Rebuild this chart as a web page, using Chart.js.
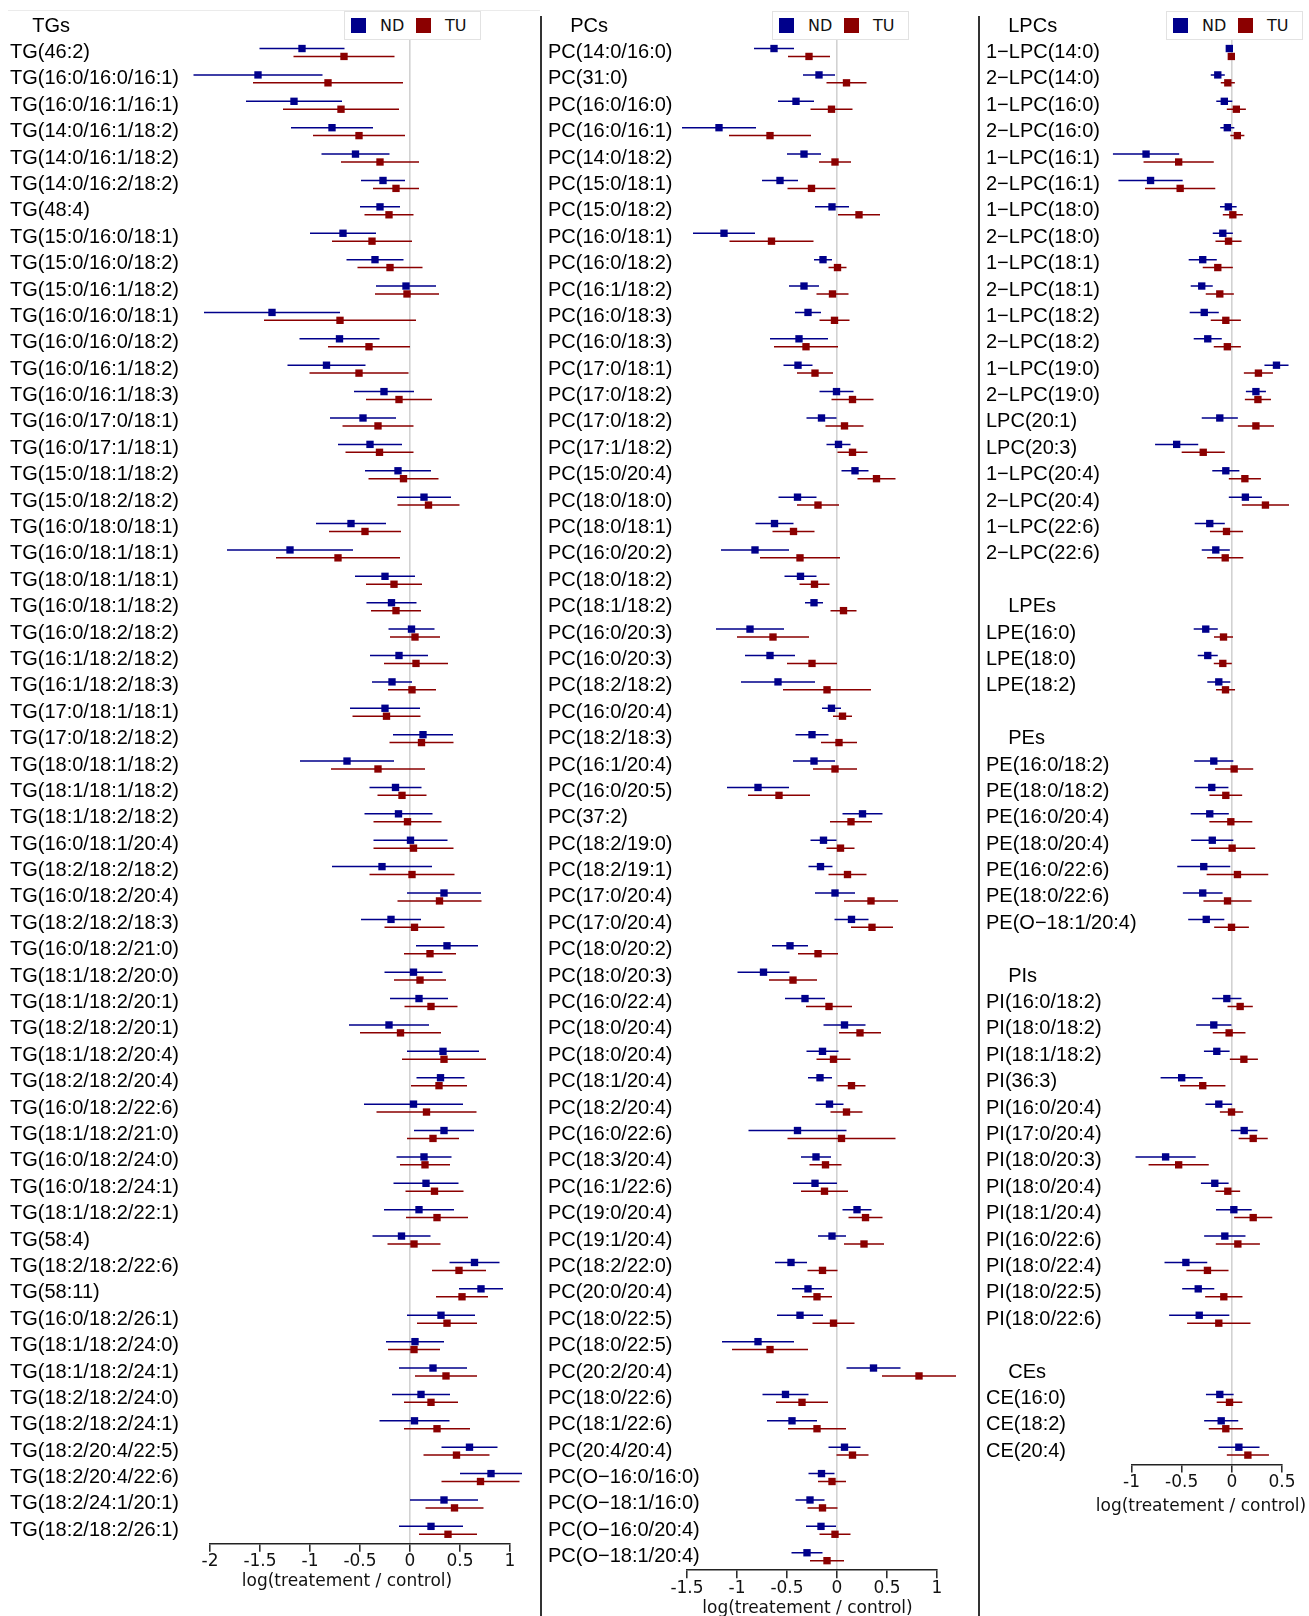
<!DOCTYPE html>
<html>
<head>
<meta charset="utf-8">
<script src="https://cdn.jsdelivr.net/npm/chart.js@4/dist/chart.umd.min.js"></script>
<style>
  html, body { margin: 0; padding: 0; background: #fff; }
  body { width: 1309px; height: 1616px; position: relative; overflow: hidden; font-family: "DejaVu Sans", sans-serif; }
  canvas { position: absolute; top: 0; }
  .divider { position: absolute; top: 16px; bottom: 0; width: 2px; background: #333; }
  .topline { position: absolute; top: 10px; left: 8px; width: 532px; height: 1px; background: #ebebeb; }
  .legend { position: absolute; top: 11px; width: 137px; height: 29px; box-sizing: border-box;
            border: 1px solid #e2e2e2; background: #fff; z-index: 2; }
  .legend .sq { position: absolute; top: 6px; width: 15px; height: 15px; }
  .legend .tx { position: absolute; top: 0; line-height: 27px; font-size: 16px; color: #111; }
</style>
</head>
<body>
<div class="topline"></div>
<canvas id="tgChart" width="541" height="1616" style="left:0px"></canvas>
<canvas id="pcChart" width="438" height="1616" style="left:541px"></canvas>
<canvas id="lpChart" width="330" height="1616" style="left:979px"></canvas>
<div class="divider" style="left:540px"></div>
<div class="divider" style="left:978px"></div>

<script>
// ---------- Triglycerides ----------
const tgLabels = [
  'TG(46:2)', 'TG(16:0/16:0/16:1)', 'TG(16:0/16:1/16:1)', 'TG(14:0/16:1/18:2)', 'TG(14:0/16:1/18:2)',
  'TG(14:0/16:2/18:2)', 'TG(48:4)', 'TG(15:0/16:0/18:1)', 'TG(15:0/16:0/18:2)', 'TG(15:0/16:1/18:2)',
  'TG(16:0/16:0/18:1)', 'TG(16:0/16:0/18:2)', 'TG(16:0/16:1/18:2)', 'TG(16:0/16:1/18:3)', 'TG(16:0/17:0/18:1)',
  'TG(16:0/17:1/18:1)', 'TG(15:0/18:1/18:2)', 'TG(15:0/18:2/18:2)', 'TG(16:0/18:0/18:1)', 'TG(16:0/18:1/18:1)',
  'TG(18:0/18:1/18:1)', 'TG(16:0/18:1/18:2)', 'TG(16:0/18:2/18:2)', 'TG(16:1/18:2/18:2)', 'TG(16:1/18:2/18:3)',
  'TG(17:0/18:1/18:1)', 'TG(17:0/18:2/18:2)', 'TG(18:0/18:1/18:2)', 'TG(18:1/18:1/18:2)', 'TG(18:1/18:2/18:2)',
  'TG(16:0/18:1/20:4)', 'TG(18:2/18:2/18:2)', 'TG(16:0/18:2/20:4)', 'TG(18:2/18:2/18:3)', 'TG(16:0/18:2/21:0)',
  'TG(18:1/18:2/20:0)', 'TG(18:1/18:2/20:1)', 'TG(18:2/18:2/20:1)', 'TG(18:1/18:2/20:4)', 'TG(18:2/18:2/20:4)',
  'TG(16:0/18:2/22:6)', 'TG(18:1/18:2/21:0)', 'TG(16:0/18:2/24:0)', 'TG(16:0/18:2/24:1)', 'TG(18:1/18:2/22:1)',
  'TG(58:4)', 'TG(18:2/18:2/22:6)', 'TG(58:11)', 'TG(16:0/18:2/26:1)', 'TG(18:1/18:2/24:0)',
  'TG(18:1/18:2/24:1)', 'TG(18:2/18:2/24:0)', 'TG(18:2/18:2/24:1)', 'TG(18:2/20:4/22:5)', 'TG(18:2/20:4/22:6)',
  'TG(18:2/24:1/20:1)', 'TG(18:2/18:2/26:1)'
];
const tgNd = [-1.08, -1.52, -1.16, -0.78, -0.545, -0.27, -0.30, -0.67, -0.35, -0.04,
  -1.38, -0.705, -0.835, -0.26, -0.47, -0.40, -0.12, 0.14, -0.59, -1.20,
  -0.25, -0.185, 0.015, -0.11, -0.18, -0.25, 0.13, -0.63, -0.145, -0.115,
  0.005, -0.28, 0.34, -0.19, 0.37, 0.035, 0.09, -0.21, 0.33, 0.305,
  0.035, 0.34, 0.14, 0.16, 0.09, -0.085, 0.645, 0.71, 0.31, 0.05,
  0.23, 0.11, 0.045, 0.595, 0.81, 0.34, 0.21];
const tgNdErr = [0.425, 0.645, 0.48, 0.41, 0.34, 0.22, 0.20, 0.33, 0.285, 0.30,
  0.68, 0.40, 0.39, 0.30, 0.33, 0.32, 0.33, 0.27, 0.35, 0.63,
  0.30, 0.25, 0.23, 0.29, 0.20, 0.35, 0.30, 0.47, 0.26, 0.34,
  0.37, 0.50, 0.37, 0.30, 0.31, 0.29, 0.29, 0.40, 0.36, 0.24,
  0.495, 0.30, 0.275, 0.325, 0.35, 0.29, 0.25, 0.22, 0.34, 0.29,
  0.34, 0.29, 0.35, 0.28, 0.31, 0.34, 0.32];
const tgTu = [-0.66, -0.82, -0.69, -0.51, -0.30, -0.14, -0.21, -0.38, -0.20, -0.03,
  -0.70, -0.41, -0.51, -0.11, -0.32, -0.305, -0.065, 0.185, -0.45, -0.72,
  -0.16, -0.14, 0.05, 0.06, 0.02, -0.235, 0.115, -0.32, -0.08, -0.025,
  0.035, 0.02, 0.295, 0.045, 0.20, 0.10, 0.21, -0.095, 0.34, 0.29,
  0.165, 0.23, 0.15, 0.245, 0.27, 0.04, 0.49, 0.52, 0.37, 0.04,
  0.36, 0.21, 0.27, 0.465, 0.705, 0.445, 0.38];
const tgTuErr = [0.505, 0.75, 0.58, 0.46, 0.39, 0.23, 0.245, 0.40, 0.325, 0.32,
  0.76, 0.41, 0.495, 0.33, 0.355, 0.34, 0.35, 0.31, 0.36, 0.62,
  0.28, 0.25, 0.25, 0.32, 0.24, 0.34, 0.32, 0.47, 0.245, 0.34,
  0.40, 0.425, 0.42, 0.30, 0.26, 0.26, 0.265, 0.405, 0.42, 0.28,
  0.50, 0.26, 0.25, 0.29, 0.31, 0.265, 0.27, 0.26, 0.30, 0.26,
  0.31, 0.27, 0.33, 0.33, 0.39, 0.29, 0.29];

// ---------- Phosphatidylcholines ----------
const pcLabels = [
  'PC(14:0/16:0)', 'PC(31:0)', 'PC(16:0/16:0)', 'PC(16:0/16:1)', 'PC(14:0/18:2)',
  'PC(15:0/18:1)', 'PC(15:0/18:2)', 'PC(16:0/18:1)', 'PC(16:0/18:2)', 'PC(16:1/18:2)',
  'PC(16:0/18:3)', 'PC(16:0/18:3)', 'PC(17:0/18:1)', 'PC(17:0/18:2)', 'PC(17:0/18:2)',
  'PC(17:1/18:2)', 'PC(15:0/20:4)', 'PC(18:0/18:0)', 'PC(18:0/18:1)', 'PC(16:0/20:2)',
  'PC(18:0/18:2)', 'PC(18:1/18:2)', 'PC(16:0/20:3)', 'PC(16:0/20:3)', 'PC(18:2/18:2)',
  'PC(16:0/20:4)', 'PC(18:2/18:3)', 'PC(16:1/20:4)', 'PC(16:0/20:5)', 'PC(37:2)',
  'PC(18:2/19:0)', 'PC(18:2/19:1)', 'PC(17:0/20:4)', 'PC(17:0/20:4)', 'PC(18:0/20:2)',
  'PC(18:0/20:3)', 'PC(16:0/22:4)', 'PC(18:0/20:4)', 'PC(18:0/20:4)', 'PC(18:1/20:4)',
  'PC(18:2/20:4)', 'PC(16:0/22:6)', 'PC(18:3/20:4)', 'PC(16:1/22:6)', 'PC(19:0/20:4)',
  'PC(19:1/20:4)', 'PC(18:2/22:0)', 'PC(20:0/20:4)', 'PC(18:0/22:5)', 'PC(18:0/22:5)',
  'PC(20:2/20:4)', 'PC(18:0/22:6)', 'PC(18:1/22:6)', 'PC(20:4/20:4)', 'PC(O\u221216:0/16:0)',
  'PC(O\u221218:1/16:0)', 'PC(O\u221216:0/20:4)', 'PC(O\u221218:1/20:4)'
];
const pcNd = [-0.63, -0.18, -0.41, -1.18, -0.33, -0.57, -0.05, -1.13, -0.14, -0.33,
  -0.29, -0.38, -0.39, -0.005, -0.155, 0.015, 0.18, -0.395, -0.625, -0.82,
  -0.365, -0.23, -0.87, -0.67, -0.59, -0.055, -0.25, -0.23, -0.79, 0.255,
  -0.135, -0.165, -0.02, 0.145, -0.47, -0.735, -0.32, 0.075, -0.145, -0.17,
  -0.075, -0.395, -0.21, -0.22, 0.20, -0.05, -0.46, -0.29, -0.37, -0.79,
  0.365, -0.515, -0.45, 0.075, -0.155, -0.27, -0.16, -0.30];
const pcNdErr = [0.20, 0.16, 0.18, 0.37, 0.17, 0.18, 0.17, 0.31, 0.09, 0.15,
  0.13, 0.29, 0.145, 0.17, 0.15, 0.12, 0.135, 0.19, 0.19, 0.34,
  0.16, 0.09, 0.34, 0.25, 0.37, 0.095, 0.165, 0.21, 0.31, 0.20,
  0.13, 0.12, 0.20, 0.17, 0.18, 0.26, 0.20, 0.21, 0.16, 0.12,
  0.14, 0.49, 0.15, 0.22, 0.145, 0.14, 0.16, 0.16, 0.23, 0.36,
  0.27, 0.23, 0.25, 0.16, 0.13, 0.145, 0.15, 0.155];
const pcTu = [-0.28, 0.095, -0.055, -0.67, -0.02, -0.255, 0.22, -0.655, 0.005, -0.045,
  -0.025, -0.31, -0.22, 0.155, 0.075, 0.155, 0.395, -0.19, -0.435, -0.37,
  -0.225, 0.065, -0.64, -0.25, -0.10, 0.055, 0.02, -0.02, -0.58, 0.14,
  0.035, 0.105, 0.34, 0.35, -0.19, -0.44, -0.08, 0.23, -0.035, 0.145,
  0.095, 0.045, -0.115, -0.125, 0.285, 0.27, -0.145, -0.20, -0.035, -0.67,
  0.82, -0.35, -0.20, 0.155, -0.05, -0.145, -0.02, -0.10];
const pcTuErr = [0.21, 0.20, 0.21, 0.41, 0.16, 0.24, 0.21, 0.42, 0.09, 0.16,
  0.15, 0.32, 0.18, 0.21, 0.19, 0.15, 0.19, 0.21, 0.21, 0.40,
  0.15, 0.13, 0.36, 0.25, 0.44, 0.095, 0.18, 0.22, 0.31, 0.21,
  0.14, 0.19, 0.27, 0.21, 0.20, 0.24, 0.23, 0.21, 0.17, 0.14,
  0.16, 0.54, 0.16, 0.235, 0.17, 0.20, 0.15, 0.15, 0.21, 0.38,
  0.37, 0.26, 0.29, 0.16, 0.14, 0.15, 0.155, 0.17];

// ---------- Lysophosphatidylcholines ----------
const lpcLabels = ['1\u2212LPC(14:0)', '2\u2212LPC(14:0)', '1\u2212LPC(16:0)', '2\u2212LPC(16:0)', '1\u2212LPC(16:1)',
  '2\u2212LPC(16:1)', '1\u2212LPC(18:0)', '2\u2212LPC(18:0)', '1\u2212LPC(18:1)', '2\u2212LPC(18:1)',
  '1\u2212LPC(18:2)', '2\u2212LPC(18:2)', '1\u2212LPC(19:0)', '2\u2212LPC(19:0)', 'LPC(20:1)',
  'LPC(20:3)', '1\u2212LPC(20:4)', '2\u2212LPC(20:4)', '1\u2212LPC(22:6)', '2\u2212LPC(22:6)'];
const lpcNd = [-0.025, -0.14, -0.075, -0.045, -0.855, -0.81, -0.035, -0.09, -0.29, -0.30,
  -0.275, -0.24, 0.445, 0.24, -0.12, -0.55, -0.06, 0.135, -0.22, -0.16];
const lpcNdErr = [0.015, 0.07, 0.08, 0.07, 0.33, 0.32, 0.083, 0.10, 0.14, 0.11,
  0.145, 0.14, 0.12, 0.10, 0.18, 0.215, 0.135, 0.165, 0.15, 0.14];
const lpcTu = [-0.005, -0.04, 0.045, 0.055, -0.53, -0.515, 0.01, -0.033, -0.14, -0.12,
  -0.06, -0.045, 0.265, 0.26, 0.24, -0.285, 0.13, 0.335, -0.053, -0.066];
const lpcTuErr = [0.015, 0.07, 0.095, 0.07, 0.35, 0.35, 0.10, 0.13, 0.15, 0.14,
  0.15, 0.135, 0.145, 0.13, 0.18, 0.215, 0.16, 0.235, 0.165, 0.18];

// ---------- Lysophosphatidylethanolamines ----------
const lpeLabels = ['LPE(16:0)', 'LPE(18:0)', 'LPE(18:2)'];
const lpeNd = [-0.26, -0.24, -0.13];
const lpeNdErr = [0.12, 0.10, 0.115];
const lpeTu = [-0.083, -0.09, -0.063];
const lpeTuErr = [0.095, 0.09, 0.095];

// ---------- Phosphatidylethanolamines ----------
const peLabels = ['PE(16:0/18:2)', 'PE(18:0/18:2)', 'PE(16:0/20:4)', 'PE(18:0/20:4)',
  'PE(16:0/22:6)', 'PE(18:0/22:6)', 'PE(O\u221218:1/20:4)'];
const peNd = [-0.18, -0.20, -0.22, -0.195, -0.28, -0.29, -0.255];
const peNdErr = [0.195, 0.166, 0.19, 0.21, 0.264, 0.198, 0.18];
const peTu = [0.023, -0.06, -0.01, 0.003, 0.056, -0.043, -0.003];
const peTuErr = [0.19, 0.163, 0.214, 0.23, 0.307, 0.24, 0.173];

// ---------- Phosphatidylinositols ----------
const piLabels = ['PI(16:0/18:2)', 'PI(18:0/18:2)', 'PI(18:1/18:2)', 'PI(36:3)', 'PI(16:0/20:4)',
  'PI(17:0/20:4)', 'PI(18:0/20:3)', 'PI(18:0/20:4)', 'PI(18:1/20:4)', 'PI(16:0/22:6)',
  'PI(18:0/22:4)', 'PI(18:0/22:5)', 'PI(18:0/22:6)'];
const piNd = [-0.05, -0.18, -0.15, -0.50, -0.13, 0.123, -0.66, -0.17, 0.02, -0.07, -0.458, -0.335, -0.325];
const piNdErr = [0.146, 0.176, 0.128, 0.21, 0.133, 0.133, 0.30, 0.138, 0.178, 0.206, 0.213, 0.16, 0.30];
const piTu = [0.083, -0.027, 0.12, -0.29, -0.003, 0.213, -0.53, -0.04, 0.213, 0.06, -0.243, -0.08, -0.13];
const piTuErr = [0.126, 0.163, 0.14, 0.226, 0.116, 0.145, 0.30, 0.123, 0.19, 0.22, 0.21, 0.186, 0.316];

// ---------- Cholesteryl esters ----------
const ceLabels = ['CE(16:0)', 'CE(18:2)', 'CE(20:4)'];
const ceNd = [-0.12, -0.106, 0.07];
const ceNdErr = [0.138, 0.17, 0.206];
const ceTu = [-0.023, -0.06, 0.16];
const ceTuErr = [0.128, 0.17, 0.21];

// x-axis tick values of each panel
const tgTicks = [-2, -1.5, -1, -0.5, 0, 0.5, 1];
const pcTicks = [-1.5, -1, -0.5, 0, 0.5, 1];
const lpTicks = [-1, -0.5, 0, 0.5];

const seriesNames = ['ND', 'TU'];
const axisTitle = 'log(treatement / control)';
const ND_COLOR = '#00008b';
const TU_COLOR = '#8b0000';

// ---------- layout constants ----------
const ROW = 26.39;          // px per row
const TOP = 12.9;           // top edge of the plotting area
const OFF = 0.15;           // ND above / TU below the row centre, in rows
const INDENT = '    ';      // indent of group headings
const LABEL_FONT = { family: "'Liberation Sans', Arial, sans-serif", size: 20 };
const AXIS_FONT = { family: "'DejaVu Sans', Verdana, sans-serif", size: 17 };

// Axis caption drawn below the tick labels, free of the scale's width limit
const axisCaption = {
  id: 'axisCaption',
  afterDraw(chart, args, o) {
    const { ctx } = chart;
    const xs = chart.scales.x;
    ctx.save();
    ctx.font = AXIS_FONT.size + 'px ' + AXIS_FONT.family;
    ctx.fillStyle = '#111';
    ctx.textAlign = 'center';
    ctx.textBaseline = 'middle';
    ctx.fillText(o.text, o.centerX, xs.top + o.gap);
    ctx.restore();
  }
};

function buildRows(groups) {
  const rows = [];
  groups.forEach((g, gi) => {
    if (gi > 0) rows.push({ text: '' });
    rows.push({ text: INDENT + g.title });
    g.labels.forEach((lab, i) => rows.push({ text: lab, g, i }));
  });
  return rows;
}

function whiskerPoints(rows, key, errKey, off) {
  const pts = [];
  rows.forEach((r, k) => {
    if (!r.g) return;
    const v = r.g[key][r.i], e = r.g[errKey][r.i], y = k - 1 + off;
    pts.push({ x: v - e, y }, { x: v + e, y }, { x: null, y: null });
  });
  return pts;
}

function markPoints(rows, key, off) {
  const pts = [];
  rows.forEach((r, k) => {
    if (!r.g) return;
    pts.push({ x: r.g[key][r.i], y: k - 1 + off });
  });
  return pts;
}

function drawPanel(id, opt) {
  const canvas = document.getElementById(id);
  const W = canvas.width, H = canvas.height;
  const rows = buildRows(opt.groups);
  const yMin = -1.5;
  const yMax = rows.length - 2 + 0.51;
  const bottom = TOP + (yMax - yMin) * ROW;

  const whisker = (key, errKey, off, color) => ({
    data: whiskerPoints(rows, key, errKey, off),
    showLine: true, spanGaps: false, borderColor: color, borderWidth: 1.5,
    pointRadius: 0, clip: false, order: 1
  });
  const mark = (key, off, color, label) => ({
    label, data: markPoints(rows, key, off),
    pointStyle: 'rect', pointRadius: 5.2, pointBackgroundColor: color,
    pointBorderWidth: 0, showLine: false, clip: false, order: 0
  });

  new Chart(canvas, {
    type: 'scatter',
    plugins: [axisCaption],
    data: {
      datasets: [
        whisker('nd', 'ndErr', -OFF, ND_COLOR),
        whisker('tu', 'tuErr', OFF, TU_COLOR),
        mark('nd', -OFF, ND_COLOR, seriesNames[0]),
        mark('tu', OFF, TU_COLOR, seriesNames[1])
      ]
    },
    options: {
      responsive: false, animation: false, devicePixelRatio: 1, events: [],
      layout: { padding: { left: opt.labelX - opt.canvasLeft, top: TOP, right: W - (opt.plotRight - opt.canvasLeft), bottom: 0 } },
      plugins: {
        legend: { display: false }, tooltip: { enabled: false },
        axisCaption: { text: axisTitle, centerX: opt.captionX - opt.canvasLeft, gap: opt.captionGap }
      },
      scales: {
        x: {
          type: 'linear', bounds: 'data', min: opt.ticks[0], max: opt.ticks[opt.ticks.length - 1],
          afterBuildTicks: s => { s.ticks = opt.ticks.map(v => ({ value: v })); },
          afterFit: s => { s.height = H - bottom; s.paddingLeft = 0; s.paddingRight = 0; },
          ticks: { autoSkip: false, maxRotation: 0, padding: 0, color: '#111', font: AXIS_FONT,
                   callback: v => String(v) },
          grid: {
            color: c => (c.tick && c.tick.value === 0) ? '#d2d2d2' : 'rgba(0,0,0,0)',
            lineWidth: 1.6, drawTicks: true, tickLength: 8, tickColor: '#222', tickWidth: 1.5
          },
          border: { display: true, color: '#222', width: 1.5 },
          title: { display: false }
        },
        y: {
          type: 'linear', reverse: true, bounds: 'data', min: yMin, max: yMax,
          afterBuildTicks: s => { s.ticks = rows.map((r, k) => ({ value: k - 1 })); },
          afterFit: s => {
            s.width = opt.plotLeft - opt.labelX; s.paddingTop = 0; s.paddingBottom = 0;
            // long names may run past the axis box toward the plot; don't clip them
            s._computeLabelArea = () => null;
          },
          ticks: { autoSkip: false, crossAlign: 'far', padding: 0, color: '#000', font: LABEL_FONT,
                   callback: (v, i) => rows[i] ? rows[i].text : '' },
          grid: { display: false, drawTicks: false },
          border: { display: false }
        }
      }
    }
  });
}

function addLegend(left) {
  const box = document.createElement('div');
  box.className = 'legend';
  box.style.left = left + 'px';
  const items = [[ND_COLOR, 6, 35], [TU_COLOR, 71, 100]];
  items.forEach(([color, sqX, txX], i) => {
    const sq = document.createElement('span');
    sq.className = 'sq'; sq.style.left = sqX + 'px'; sq.style.background = color;
    const tx = document.createElement('span');
    tx.className = 'tx'; tx.style.left = txX + 'px'; tx.textContent = seriesNames[i];
    box.appendChild(sq); box.appendChild(tx);
  });
  document.body.appendChild(box);
}

drawPanel('tgChart', {
  canvasLeft: 0, labelX: 10, plotLeft: 210, plotRight: 510, ticks: tgTicks,
  captionX: 347, captionGap: 38,
  groups: [{ title: 'TGs', labels: tgLabels, nd: tgNd, ndErr: tgNdErr, tu: tgTu, tuErr: tgTuErr }]
});
drawPanel('pcChart', {
  canvasLeft: 541, labelX: 548, plotLeft: 687, plotRight: 937, ticks: pcTicks,
  captionX: 807.5, captionGap: 38,
  groups: [{ title: 'PCs', labels: pcLabels, nd: pcNd, ndErr: pcNdErr, tu: pcTu, tuErr: pcTuErr }]
});
drawPanel('lpChart', {
  canvasLeft: 979, labelX: 986, plotLeft: 1131.5, plotRight: 1282, ticks: lpTicks,
  captionX: 1201, captionGap: 42,
  groups: [
    { title: 'LPCs', labels: lpcLabels, nd: lpcNd, ndErr: lpcNdErr, tu: lpcTu, tuErr: lpcTuErr },
    { title: 'LPEs', labels: lpeLabels, nd: lpeNd, ndErr: lpeNdErr, tu: lpeTu, tuErr: lpeTuErr },
    { title: 'PEs', labels: peLabels, nd: peNd, ndErr: peNdErr, tu: peTu, tuErr: peTuErr },
    { title: 'PIs', labels: piLabels, nd: piNd, ndErr: piNdErr, tu: piTu, tuErr: piTuErr },
    { title: 'CEs', labels: ceLabels, nd: ceNd, ndErr: ceNdErr, tu: ceTu, tuErr: ceTuErr }
  ]
});

addLegend(344);
addLegend(772);
addLegend(1166);
</script>
</body>
</html>
